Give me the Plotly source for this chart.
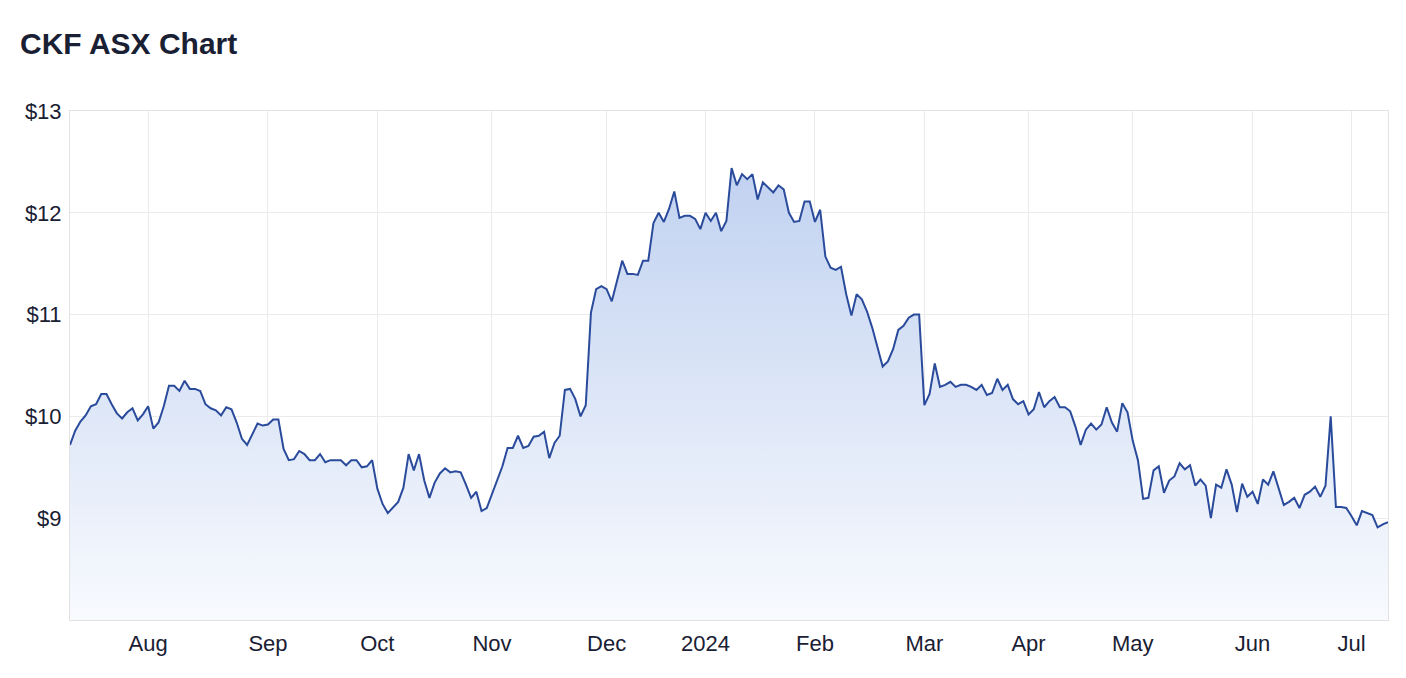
import pandas as pd
import plotly.graph_objects as go

# ---- data ----
holidays = ["2023-12-25", "2023-12-26", "2024-01-01", "2024-01-26",
            "2024-03-29", "2024-04-01", "2024-04-25", "2024-06-10"]
month_labels = ["Aug", "Sep", "Oct", "Nov", "Dec", "2024",
                "Feb", "Mar", "Apr", "May", "Jun", "Jul"]
y_tick_vals = [9, 10, 11, 12, 13]
y_tick_text = ["$9", "$10", "$11", "$12", "$13"]

prices = [
    9.72, 9.86, 9.95, 10.01, 10.10, 10.12, 10.22, 10.22, 10.12, 10.03,
    9.98, 10.04, 10.08, 9.96, 10.02, 10.10, 9.88, 9.94, 10.10, 10.30,
    10.30, 10.25, 10.35, 10.27, 10.27, 10.25, 10.12, 10.08, 10.06, 10.01,
    10.09, 10.07, 9.94, 9.78, 9.72, 9.83, 9.93, 9.91, 9.92, 9.97,
    9.97, 9.68, 9.57, 9.58, 9.66, 9.63, 9.57, 9.57, 9.63, 9.55,
    9.57, 9.57, 9.57, 9.52, 9.57, 9.57, 9.50, 9.51, 9.57, 9.29,
    9.14, 9.05, 9.11, 9.16, 9.30, 9.63, 9.47, 9.63, 9.37, 9.20,
    9.35, 9.44, 9.49, 9.45, 9.46, 9.45, 9.33, 9.20, 9.26, 9.07,
    9.10, 9.24, 9.39, 9.51, 9.69, 9.69, 9.81, 9.69, 9.71, 9.80,
    9.81, 9.85, 9.59, 9.74, 9.81, 10.26, 10.27, 10.17, 10.00, 10.11,
    11.02, 11.25, 11.28, 11.25, 11.13, 11.34, 11.53, 11.40, 11.40, 11.39,
    11.53, 11.53, 11.90, 12.00, 11.91, 12.04, 12.21, 11.95, 11.97, 11.97,
    11.94, 11.84, 12.00, 11.92, 12.00, 11.82, 11.92, 12.44, 12.27, 12.38,
    12.33, 12.38, 12.13, 12.30, 12.25, 12.20, 12.27, 12.23, 12.00, 11.91,
    11.92, 12.11, 12.11, 11.91, 12.03, 11.57, 11.46, 11.44, 11.47, 11.20,
    10.99, 11.20, 11.15, 11.03, 10.87, 10.69, 10.49, 10.54, 10.66, 10.85,
    10.89, 10.97, 11.00, 11.00, 10.11, 10.22, 10.52, 10.29, 10.31, 10.34,
    10.29, 10.31, 10.31, 10.29, 10.26, 10.31, 10.21, 10.23, 10.37, 10.26,
    10.31, 10.17, 10.12, 10.15, 10.02, 10.07, 10.24, 10.09, 10.15, 10.19,
    10.09, 10.09, 10.05, 9.90, 9.72, 9.87, 9.93, 9.87, 9.92, 10.09,
    9.94, 9.85, 10.13, 10.04, 9.76, 9.57, 9.19, 9.20, 9.47, 9.51,
    9.25, 9.37, 9.41, 9.54, 9.48, 9.52, 9.32, 9.38, 9.32, 9.00,
    9.33, 9.30, 9.48, 9.33, 9.06, 9.34, 9.21, 9.26, 9.14, 9.38,
    9.33, 9.46, 9.30, 9.13, 9.16, 9.20, 9.10, 9.23, 9.26, 9.31,
    9.21, 9.32, 10.00, 9.11, 9.11, 9.10, 9.02, 8.93, 9.07, 9.05,
    9.03, 8.91, 8.94, 8.96,
]

# trading days (ASX calendar)
trading_days = [d.strftime("%Y-%m-%d")
                for d in pd.bdate_range("2023-07-11", "2024-07-10")
                if d.strftime("%Y-%m-%d") not in holidays]
dates = trading_days[:len(prices)]

# first trading day of each month -> tick positions
tick_vals = []
seen = set()
for d in dates:
    ym = d[:7]
    if ym not in seen:
        seen.add(ym)
        if ym != dates[0][:7]:
            tick_vals.append(d)

LINE = "#2a4b9b"
GRID = "#ebebeb"
TEXT = "#1a2033"
FONT = "Liberation Sans"

W, H = 1390, 662  # page body has an 8px margin

fig = go.Figure()
fig.add_trace(go.Scatter(
    x=dates, y=prices, mode="lines",
    line=dict(color=LINE, width=2),
    fill="tozeroy",
    fillgradient=dict(
        type="vertical",
        start=8, stop=12.5,
        colorscale=[[0, "rgb(248,250,254)"], [1, "rgb(192,209,240)"]],
    ),
    hoverinfo="skip",
))

fig.update_layout(
    width=W, height=H,
    margin=dict(l=62, r=10, t=103, b=50),
    paper_bgcolor="white", plot_bgcolor="white",
    showlegend=False,
    title=dict(
        text="<b>CKF ASX Chart</b>",
        font=dict(family=FONT, size=30, color=TEXT),
        x=12 / W, xanchor="left", xref="container",
        y=1 - 35 / H, yanchor="middle", yref="container",
    ),
    font=dict(family=FONT, color=TEXT, size=22),
)
fig.update_xaxes(
    type="category",
    range=[0, len(dates) - 1],
    tickmode="array", tickvals=tick_vals, ticktext=month_labels,
    showgrid=True, gridcolor=GRID, gridwidth=1,
    showline=True, linecolor="#e3e3e3", linewidth=1, mirror=True,
    ticks="", ticklabelstandoff=4,
    tickfont=dict(family=FONT, size=22, color=TEXT),
    zeroline=False,
)
fig.update_yaxes(
    range=[8, 13],
    tickmode="array", tickvals=y_tick_vals, ticktext=y_tick_text,
    showgrid=True, gridcolor=GRID, gridwidth=1,
    showline=True, linecolor="#e3e3e3", linewidth=1, mirror=True,
    ticks="", ticklabelstandoff=3,
    tickfont=dict(family=FONT, size=22, color=TEXT),
    zeroline=False,
)

fig.write_html("out.html")
